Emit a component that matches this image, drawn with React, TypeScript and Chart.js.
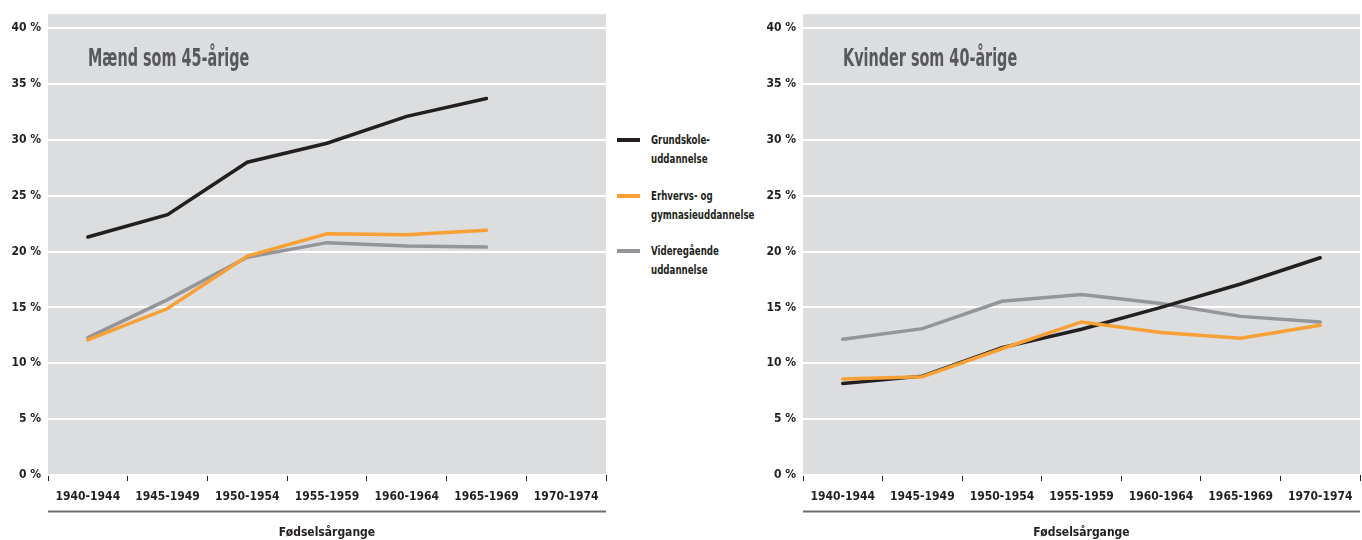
import React, { useEffect, useRef } from "react";
import { Chart, registerables } from "chart.js";

Chart.register(...registerables);

const categories = ["1940-1944", "1945-1949", "1950-1954", "1955-1959", "1960-1964", "1965-1969", "1970-1974"];

const menGrundskole = [21.3, 23.3, 28.0, 29.7, 32.1, 33.7, null];
const menErhverv = [12.1, 14.9, 19.6, 21.6, 21.5, 21.9, null];
const menVideregaaende = [12.3, 15.7, 19.5, 20.8, 20.5, 20.4, null];

const womenGrundskole = [8.2, 8.85, 11.4, 13.05, 15.0, 17.1, 19.45];
const womenErhverv = [8.6, 8.8, 11.3, 13.7, 12.75, 12.25, 13.4];
const womenVideregaaende = [12.15, 13.1, 15.55, 16.15, 15.35, 14.2, 13.7];

const yTickValues = [0, 5, 10, 15, 20, 25, 30, 35, 40];
const legendLabels = [
  ["Grundskole-", "uddannelse"],
  ["Erhvervs- og", "gymnasieuddannelse"],
  ["Videregående", "uddannelse"],
];
const panelTitles = ["Mænd som 45-årige", "Kvinder som 40-årige"];
const xAxisTitle = "Fødselsårgange";

const COLORS = { black: "#231f20", orange: "#f7a035", gray: "#939598" };
const FONT = '"DejaVu Sans Condensed", "Liberation Sans Narrow", "Arial Narrow", sans-serif';

const panelPlugin = {
  id: "panelDeco",
  beforeDraw(chart: any) {
    const { ctx, chartArea } = chart;
    ctx.save();
    ctx.fillStyle = "#dcdddf";
    ctx.fillRect(chartArea.left, chartArea.top, chartArea.right - chartArea.left, chartArea.bottom - chartArea.top);
    ctx.restore();
  },
  afterDraw(chart: any) {
    const { ctx, chartArea } = chart;
    const title = chart.options.plugins.panelDeco.title;
    ctx.save();
    ctx.strokeStyle = "#6d6e71";
    ctx.lineWidth = 2;
    ctx.beginPath();
    ctx.moveTo(chartArea.left, chartArea.bottom + 36.5);
    ctx.lineTo(chartArea.right, chartArea.bottom + 36.5);
    ctx.stroke();
    ctx.font = "bold 25px " + FONT;
    ctx.fillStyle = "#58595b";
    ctx.textBaseline = "middle";
    ctx.textAlign = "left";
    ctx.translate(chartArea.left + 40, chartArea.top + 45);
    ctx.scale(0.64, 1);
    ctx.fillText(title, 0, 0);
    ctx.restore();
  },
};

function makeDataset(data: (number | null)[], color: string) {
  return {
    data,
    borderColor: color,
    backgroundColor: color,
    borderWidth: 3.5,
    pointRadius: 0,
    tension: 0,
    spanGaps: false,
    borderCapStyle: "round" as const,
  };
}

function Panel(props: {
  left: number;
  width: number;
  rightPad: number;
  title: string;
  grund: (number | null)[];
  erhverv: (number | null)[];
  videre: (number | null)[];
}) {
  const ref = useRef<HTMLCanvasElement>(null);
  useEffect(() => {
    if (!ref.current) return;
    const chart = new Chart(ref.current, {
      type: "line",
      data: {
        labels: categories,
        datasets: [
          makeDataset(props.erhverv, COLORS.orange),
          makeDataset(props.grund, COLORS.black),
          makeDataset(props.videre, COLORS.gray),
        ],
      },
      plugins: [panelPlugin],
      options: {
        responsive: false,
        animation: false,
        layout: { padding: { top: 13, right: props.rightPad, left: 0, bottom: 0 } },
        plugins: {
          legend: { display: false },
          tooltip: { enabled: false },
          panelDeco: { title: props.title },
        } as any,
        scales: {
          x: {
            offset: true,
            grid: {
              offset: true,
              drawOnChartArea: false,
              drawTicks: true,
              tickLength: 6,
              color: COLORS.black,
              lineWidth: 1,
            },
            border: { display: false },
            ticks: {
              color: COLORS.black,
              font: { family: FONT, size: 12, weight: "bold" },
              padding: 9,
              maxRotation: 0,
              autoSkip: false,
            },
            title: {
              display: true,
              text: xAxisTitle,
              color: COLORS.black,
              font: { family: FONT, size: 12, weight: "bold" },
              padding: { top: 0, bottom: 0 },
            },
            afterFit(scale: any) {
              scale.height = 65;
            },
          },
          y: {
            min: 0,
            max: 41.25,
            grid: { color: "#ffffff", lineWidth: 2, drawTicks: false },
            border: { display: false },
            ticks: {
              color: COLORS.black,
              font: { family: FONT, size: 12, weight: "bold" },
              padding: 7,
              callback: (v: any) => v + " %",
            },
            afterBuildTicks(scale: any) {
              scale.ticks = yTickValues.map((v) => ({ value: v }));
            },
            afterFit(scale: any) {
              scale.width = 48;
            },
          },
        },
      } as any,
    });
    return () => chart.destroy();
  }, []);
  return (
    <canvas
      ref={ref}
      width={props.width}
      height={540}
      style={{ position: "absolute", left: props.left, top: 0, width: props.width, height: 540 }}
    />
  );
}

const legendColors = [COLORS.black, COLORS.orange, COLORS.gray];
const legendTops = [130, 186, 241];

export default function App() {
  return (
    <div style={{ position: "fixed", left: 0, top: 0, width: 1362, height: 540, background: "#fff", overflow: "hidden" }}>
      <Panel left={0} width={612} rightPad={6} title={panelTitles[0]} grund={menGrundskole} erhverv={menErhverv} videre={menVideregaaende} />
      <Panel left={755} width={607} rightPad={2} title={panelTitles[1]} grund={womenGrundskole} erhverv={womenErhverv} videre={womenVideregaaende} />
      {legendLabels.map((lines, i) => (
        <div key={i} style={{ position: "absolute", left: 617, top: legendTops[i] }}>
          <div style={{ position: "absolute", left: 0, top: 8, width: 23, height: 4, background: legendColors[i] }} />
          <div
            style={{
              position: "absolute",
              left: 34,
              top: 0,
              font: "bold 12.5px " + FONT,
              lineHeight: "19px",
              color: COLORS.black,
              whiteSpace: "nowrap",
              transform: "scaleX(0.77)",
              transformOrigin: "left top",
            }}
          >
            {lines.map((l, j) => (
              <div key={j}>{l}</div>
            ))}
          </div>
        </div>
      ))}
    </div>
  );
}
